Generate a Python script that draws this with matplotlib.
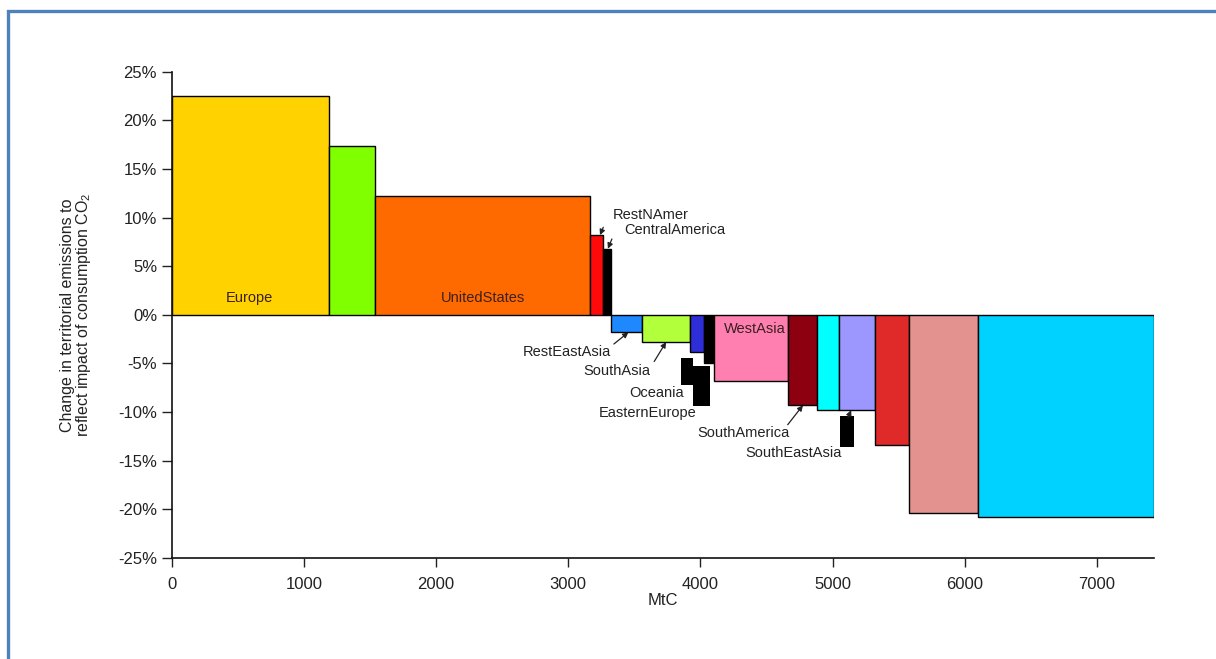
import matplotlib
matplotlib.use("Agg")
import matplotlib.pyplot as plt
from matplotlib.patches import Rectangle

plt.rcParams['font.family'] = ['Liberation Sans', 'DejaVu Sans']
plt.rcParams['mathtext.default'] = 'regular'

# Regional consumption-based vs territorial emissions (width = MtC, height = % change)
regions = ["Europe", "", "UnitedStates", "RestNAmer", "CentralAmerica",
           "RestEastAsia", "SouthAsia", "Oceania", "EasternEurope", "WestAsia",
           "SouthAmerica", "", "SouthEastAsia", "", "", ""]
mtc = [1192, 343, 1629, 101, 56, 234, 366, 106, 78, 559, 220, 161, 275, 255, 526, 1331]
pct_change = [22.5, 17.4, 12.2, 8.2, 6.8, -1.8, -2.8, -3.8, -5.0, -6.8,
              -9.3, -9.8, -9.8, -13.4, -20.4, -20.8]
colors = ["#FFD200", "#7FFF00", "#FF6A00", "#FF0A0A", "#000000",
          "#1E88FF", "#B2FF3C", "#2E2ED8", "#000000", "#FF80B0",
          "#8C0010", "#00FFFF", "#9C96FF", "#E02A2A", "#E4928F", "#00D2FF"]

# black leader blocks below the small regions (left, right, top, bottom)
block_left = [3851, 3946, 5055]
block_right = [3946, 4072, 5163]
block_top = [-4.4, -5.3, -10.4]
block_bottom = [-7.2, -9.4, -13.6]

# labels drawn inside bars
inside_labels = ["Europe", "UnitedStates", "WestAsia"]
inside_x = [590, 2355, 4410]
inside_y = [1.7, 1.7, -1.5]

# labels with arrows: text position, alignment, arrow tip
ann_labels = ["RestNAmer", "CentralAmerica", "RestEastAsia", "SouthAsia",
              "Oceania", "EasternEurope", "SouthAmerica", "SouthEastAsia"]
ann_x = [3338, 3423, 3325, 3619, 3665, 3597, 4325, 4705]
ann_y = [10.3, 8.7, -3.8, -5.8, -8.0, -10.1, -12.2, -14.2]
ann_ha = ["left", "left", "right", "right", "center", "center", "center", "center"]
tip_x = [3240, 3300, 3455, 3740, None, None, 4775, 5140]
tip_y = [8.2, 6.8, -1.8, -2.8, None, None, -9.3, -9.8]
tail_x = [3265, 3330, 3345, 3650, None, None, 4660, 5115]
tail_y = [9.0, 7.8, -3.0, -4.8, None, None, -11.3, -10.6]


def dibujar():
    fig = plt.figure(figsize=(12.16, 6.59), dpi=100)
    fig.patch.set_facecolor("white")

    # frame round the whole figure
    fig.add_artist(Rectangle((0.0062, -0.2), 1.2, 0.9833 + 0.2,
                             transform=fig.transFigure, fill=False,
                             edgecolor="#4F81BD", linewidth=2.4))

    ax = fig.add_axes([0.1412, 0.1533, 0.8077, 0.7379])

    lefts = []
    acc = 0
    for w in mtc:
        lefts.append(acc)
        acc += w
    ax.bar(lefts, pct_change, width=mtc, align="edge", color=colors,
           edgecolor="black", linewidth=1.0, zorder=2)

    for l, r, t, b in zip(block_left, block_right, block_top, block_bottom):
        ax.bar(l, t - b, width=r - l, bottom=b, align="edge",
               color="black", linewidth=0, zorder=3)

    for txt, x, y in zip(inside_labels, inside_x, inside_y):
        ax.text(x, y, txt, ha="center", va="center", fontsize=10.5,
                color="#3a2020", zorder=4)

    for i, txt in enumerate(ann_labels):
        ax.text(ann_x[i], ann_y[i], txt, ha=ann_ha[i], va="center",
                fontsize=10.5, color="#222222", zorder=4)
        if tip_x[i] is not None:
            ax.annotate("", xy=(tip_x[i], tip_y[i]), xytext=(tail_x[i], tail_y[i]),
                        arrowprops=dict(arrowstyle="-|>", color="#222222",
                                        lw=0.9, mutation_scale=8,
                                        shrinkA=0, shrinkB=0),
                        zorder=5)

    ax.set_xlim(0, 7430)
    ax.set_ylim(-25, 25)
    ax.set_xticks(range(0, 8000, 1000))
    ax.set_yticks(range(-25, 30, 5))
    ax.set_yticklabels([f"{v}%" for v in range(-25, 30, 5)])
    ax.tick_params(axis="y", length=7.5, width=1, pad=3, labelsize=12,
                   colors="#222222")
    ax.tick_params(axis="x", length=6.5, width=1, pad=7, labelsize=12,
                   colors="#222222")

    for s in ["top", "right"]:
        ax.spines[s].set_visible(False)
    for s in ["left", "bottom"]:
        ax.spines[s].set_linewidth(1.2)
        ax.spines[s].set_color("#111111")

    ax.set_xlabel("MtC", fontsize=12, labelpad=1, color="#222222")
    ax.set_ylabel("Change in territorial emissions to\n"
                  "reflect impact of consumption CO$_2$",
                  fontsize=11.5, linespacing=0.92, color="#222222")
    ax.yaxis.set_label_coords(-0.08, 0.5)

    fig.savefig("out.png", dpi=100)
    plt.close(fig)


if __name__ == "__main__":
    dibujar()
